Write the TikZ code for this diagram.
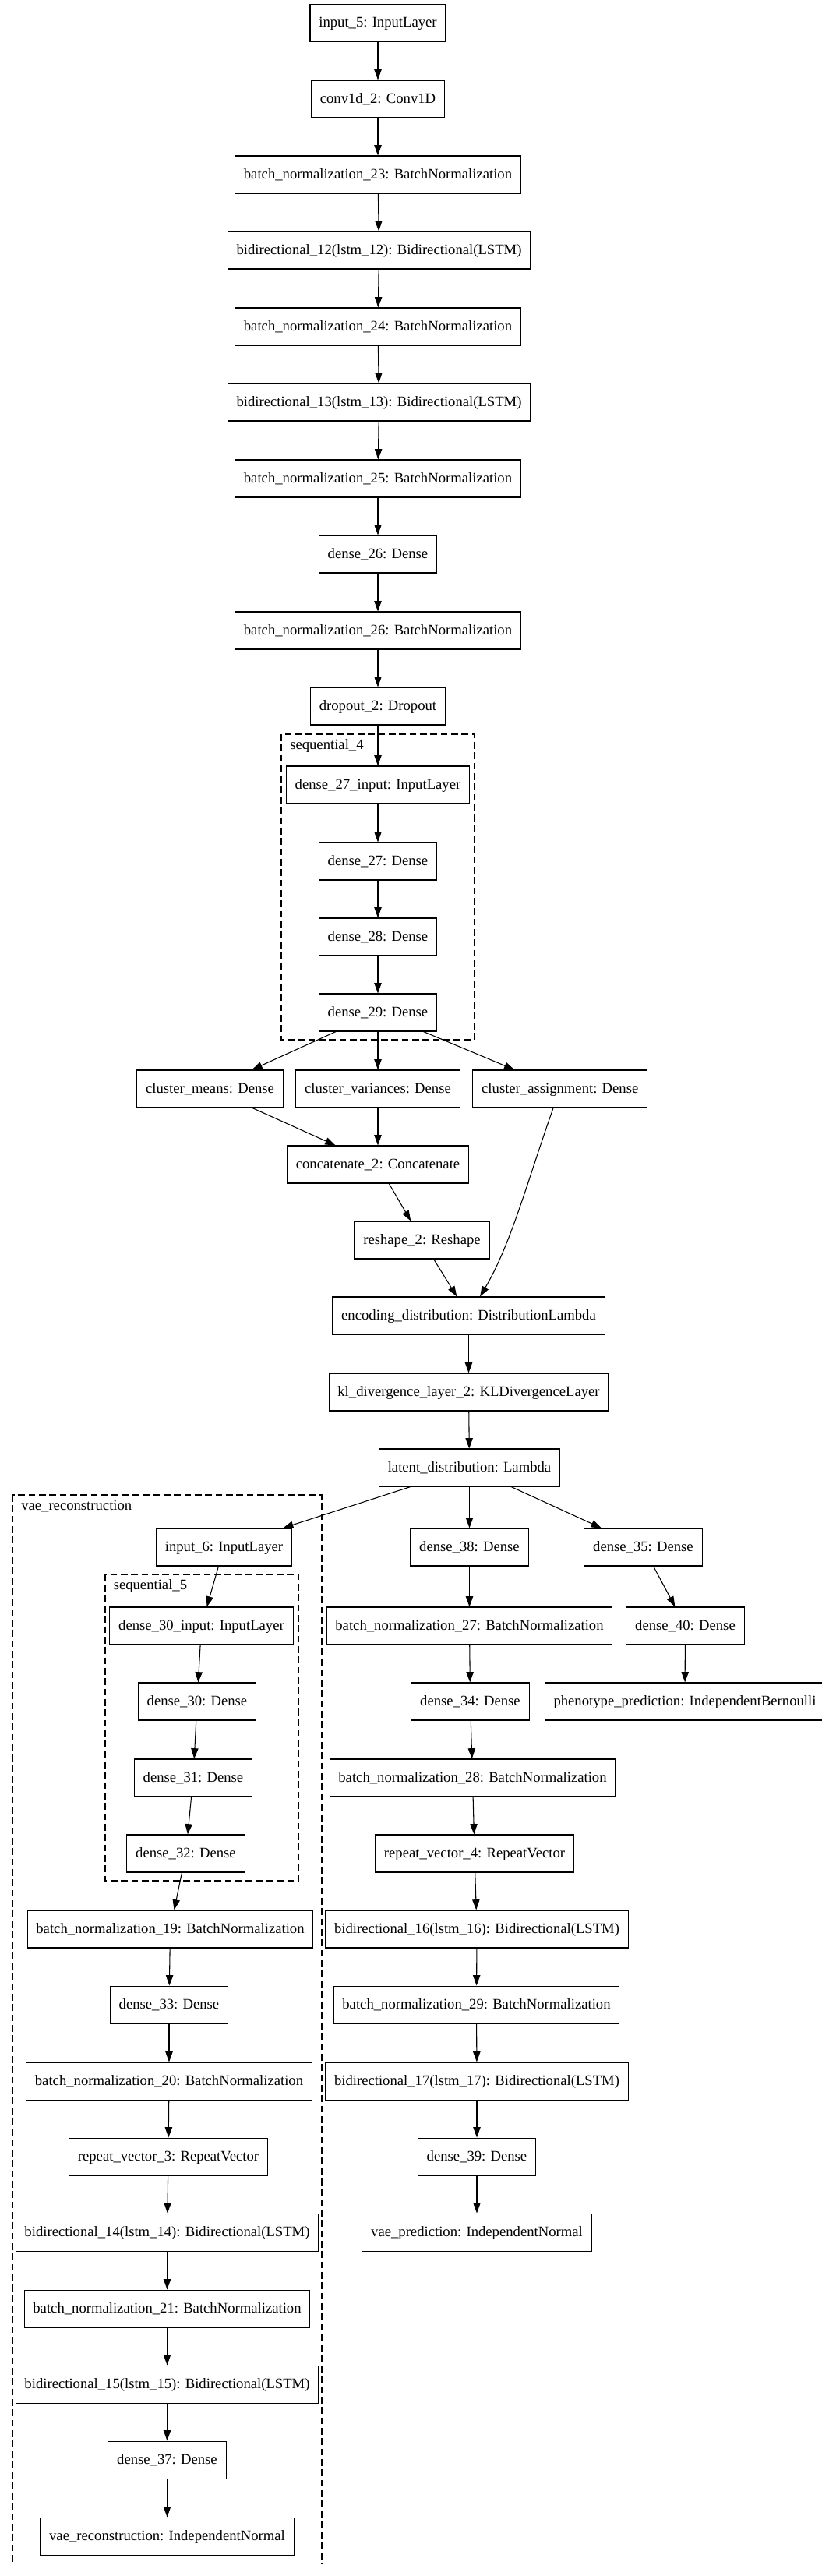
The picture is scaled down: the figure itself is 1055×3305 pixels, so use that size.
\documentclass[tikz,border=0pt]{standalone}
\usepackage{fontspec}
\setmainfont{Liberation Serif}
\usetikzlibrary{arrows.meta}

\begin{document}
\begin{tikzpicture}[x=0.75pt, y=-0.75pt,
	layer/.style={draw, line width=0.8pt, minimum height=36pt, inner xsep=8.5pt, inner ysep=0pt,
		text height=11pt, text depth=2.8pt, font=\fontsize{14pt}{16pt}\selectfont},
	arr/.style={-{Triangle[length=10pt, width=7pt]}, line width=0.8pt},
	grp/.style={draw, line width=0.8pt, dash pattern=on 6.5pt off 3.5pt},
	grplabel/.style={anchor=base west, inner sep=0pt, font=\fontsize{14pt}{16pt}\selectfont}]
		\useasboundingbox (0,0) rectangle (1055,3305);
		% groups:
		\draw [grp] (361,942) rectangle (609,1334);
		\draw [grp] (16,1918) rectangle (413,3289);
		\draw [grp] (135,2020) rectangle (383,2413);
		\node [grplabel] (seqfourlbl) at (372,961.5) {sequential\_4};
		\node [grplabel] (vaereclbl) at (27,1937.5) {vae\_reconstruction};
		\node [grplabel] (seqfivelbl) at (145.5,2039) {sequential\_5};
		
		% encoder
		\foreach \name/\txt/\x/\y in {in5/input\_5: InputLayer/485/29.5,
			conv/conv1d\_2: Conv1D/485/127,
			bn23/batch\_normalization\_23: BatchNormalization/485/224,
			bi12/bidirectional\_12(lstm\_12): Bidirectional(LSTM)/486.5/321,
			bn24/batch\_normalization\_24: BatchNormalization/485/419,
			bi13/bidirectional\_13(lstm\_13): Bidirectional(LSTM)/486.5/516,
			bn25/batch\_normalization\_25: BatchNormalization/485/614,
			d26/dense\_26: Dense/485/711,
			bn26/batch\_normalization\_26: BatchNormalization/485/809,
			drop/dropout\_2: Dropout/485/906,
			d27in/dense\_27\_input: InputLayer/485/1007,
			d27/dense\_27: Dense/485/1105,
			d28/dense\_28: Dense/485/1202,
			d29/dense\_29: Dense/485/1299,
			cmeans/cluster\_means: Dense/269.5/1397,
			cvar/cluster\_variances: Dense/485/1397,
			cassign/cluster\_assignment: Dense/718.75/1397,
			concat/concatenate\_2: Concatenate/485/1494,
			reshape/reshape\_2: Reshape/541.5/1591,
			encdist/encoding\_distribution: DistributionLambda/601.5/1688,
			kl/kl\_divergence\_layer\_2: KLDivergenceLayer/601.5/1786,
			latent/latent\_distribution: Lambda/602.5/1883}{
			\node [layer] (\name) at (\x,\y) {\txt};
		}
		% reconstruction branch
		\foreach \name/\txt/\x/\y in {in6/input\_6: InputLayer/287.5/1985,
			d30in/dense\_30\_input: InputLayer/258.5/2086,
			d30/dense\_30: Dense/253/2183,
			d31/dense\_31: Dense/248/2281,
			d32/dense\_32: Dense/238.5/2378,
			bn19/batch\_normalization\_19: BatchNormalization/218.5/2475,
			d33/dense\_33: Dense/217/2572,
			bn20/batch\_normalization\_20: BatchNormalization/217/2670,
			rep3/repeat\_vector\_3: RepeatVector/216/2767,
			bi14/bidirectional\_14(lstm\_14): Bidirectional(LSTM)/214.5/2864,
			bn21/batch\_normalization\_21: BatchNormalization/214.5/2962,
			bi15/bidirectional\_15(lstm\_15): Bidirectional(LSTM)/214.5/3059,
			d37/dense\_37: Dense/214.5/3156,
			vaerec/vae\_reconstruction: IndependentNormal/214.5/3254}{
			\node [layer] (\name) at (\x,\y) {\txt};
		}
		% prediction branches
		\foreach \name/\txt/\x/\y in {d38/dense\_38: Dense/602.5/1985,
			bn27/batch\_normalization\_27: BatchNormalization/602.5/2086,
			d34/dense\_34: Dense/603.5/2183,
			bn28/batch\_normalization\_28: BatchNormalization/606.5/2281,
			rep4/repeat\_vector\_4: RepeatVector/609/2378,
			bi16/bidirectional\_16(lstm\_16): Bidirectional(LSTM)/612/2475,
			bn29/batch\_normalization\_29: BatchNormalization/611.5/2572,
			bi17/bidirectional\_17(lstm\_17): Bidirectional(LSTM)/612/2670,
			d39/dense\_39: Dense/612/2767,
			vaepred/vae\_prediction: IndependentNormal/612/2864,
			d35/dense\_35: Dense/825.5/1985,
			d40/dense\_40: Dense/879.5/2086,
			pheno/phenotype\_prediction: IndependentBernoulli/879/2183}{
			\node [layer] (\name) at (\x,\y) {\txt};
		}
		
		% edges
		\foreach \a/\b in {in5/conv, conv/bn23, bn23/bi12, bi12/bn24, bn24/bi13, bi13/bn25,
			bn25/d26, d26/bn26, bn26/drop, drop/d27in, d27in/d27, d27/d28, d28/d29,
			d29/cmeans, d29/cvar, d29/cassign, cmeans/concat, cvar/concat, concat/reshape,
			reshape/encdist, encdist/kl, kl/latent, latent/in6, latent/d38, latent/d35,
			in6/d30in, d30in/d30, d30/d31, d31/d32, d32/bn19, bn19/d33, d33/bn20, bn20/rep3,
			rep3/bi14, bi14/bn21, bn21/bi15, bi15/d37, d37/vaerec,
			d38/bn27, bn27/d34, d34/bn28, bn28/rep4, rep4/bi16, bi16/bn29, bn29/bi17,
			bi17/d39, d39/vaepred, d35/d40, d40/pheno}{
			\draw [arr] (\a) -- (\b);
		}
		\draw [arr] (cassign) .. controls +(-41.75,118) and +(54.5,-92) .. (encdist); % bent edge
	\end{tikzpicture}
\end{document}
